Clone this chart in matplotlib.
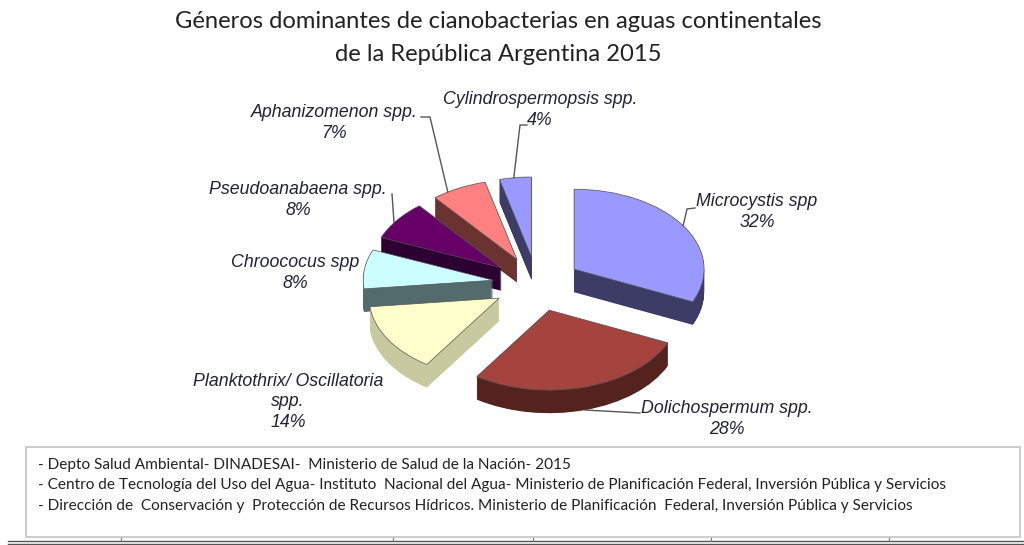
import numpy as np
import matplotlib
matplotlib.use('Agg')
import matplotlib.pyplot as plt
from matplotlib.patches import Rectangle

W, H = 1024, 545

# values as printed on the chart
generos = ['Microcystis spp', 'Dolichospermum spp.', 'Planktothrix/ Oscillatoria\nspp.',
           'Chroococus spp', 'Pseudoanabaena spp.', 'Aphanizomenon spp.', 'Cylindrospermopsis spp.']
valores = [32, 28, 14, 8, 8, 7, 4]
top_colors = ['#9999ff', '#a5433e', '#ffffcc', '#ccffff', '#660066', '#ff8080', '#9999ff']
side_colors = ['#3c3c66', '#55231e', '#c9c9a0', '#546b6b', '#2c0030', '#6b3330', '#3c3c66']

titulo = 'Géneros dominantes de cianobacterias en aguas continentales\nde la República Argentina 2015'
fuentes = ['- Depto Salud Ambiental- DINADESAI-  Ministerio de Salud de la Nación- 2015',
           '- Centro de Tecnología del Uso del Agua- Instituto  Nacional del Agua- Ministerio de Planificación Federal, Inversión Pública y Servicios',
           '- Dirección de  Conservación y  Protección de Recursos Hídricos. Ministerio de Planificación  Federal, Inversión Pública y Servicios']

# pie geometry in pixels
cx, cy = 537, 284
rx, ry = 130, 80
explode = 0.34
depth = 23

# label centre in pixels
label_x = [757, 727, 288, 295, 298, 334, 540]
label_y = [212, 419, 402, 273, 200, 123, 110]

fig = plt.figure(figsize=(W / 100, H / 100), dpi=100)
ax = fig.add_axes([0, 0, 1, 1])

# draw the walls as a stack of dark pies, top surface last
order = [6, 5, 4, 3, 0, 2, 1]
n_layers = depth * 2
for k in range(n_layers, -1, -1):
    colors = top_colors if k == 0 else side_colors
    wedges, _ = ax.pie(valores, explode=[explode] * len(valores), startangle=90, counterclock=False,
                       colors=colors, center=(0, -k / 2 / ry), radius=1,
                       wedgeprops={'linewidth': 0.5 if k == 0 else 0,
                                   'edgecolor': '#555555' if k == 0 else 'none'})
    for i, w in enumerate(wedges):
        w.set_zorder(order.index(i) * 1000 + (n_layers - k) + 1)
        w.set_clip_on(False)

ax.set_aspect('auto')
ax.set_xlim(-cx / rx, (W - cx) / rx)
ax.set_ylim(-(H - cy) / ry, cy / ry)
ax.axis('off')


def px(x, y):
    return x / W, 1 - y / H


# leader lines start on the rim of each slice, the rest of the way is in pixels
fr = np.array(valores) / sum(valores)
ends = np.cumsum(fr) * 2 * np.pi
leaders = {0: (0.5, [(687, 209), (695, 208)]),
           1: (0.5, [(640, 413)]),
           4: (0.42, [(392, 194)]),
           5: (0.28, [(430, 117), (421, 117)]),
           6: (0.45, [(520, 125), (527, 125)])}
for i, (along, pts) in leaders.items():
    a = ends[i] - fr[i] * 2 * np.pi * (1 - along)
    mid = ends[i] - fr[i] * np.pi
    x0 = cx + explode * rx * np.sin(mid) + rx * np.sin(a)
    y0 = cy - explode * ry * np.cos(mid) - ry * np.cos(a) + (depth if i == 1 else 0)
    xs = np.array([x0] + [p[0] for p in pts])
    ys = np.array([y0] + [p[1] for p in pts])
    ax.plot((xs - cx) / rx, (cy - ys) / ry, color='#555555', lw=1,
            zorder=5000 if i != 1 else 9000, clip_on=False)

for i, g in enumerate(generos):
    fx, fy = px(label_x[i], label_y[i])
    fig.text(fx, fy, '%s\n%d%%' % (g, valores[i]), ha='center', va='center', style='italic',
             family='Liberation Sans', fontsize=12.8, color='#222233', linespacing=1.25)

fx, fy = px(498, 38)
fig.text(fx, fy, titulo, ha='center', va='center', family='Lato', fontsize=17.1, color='#222222',
         linespacing=1.68)

# sources box and the double rule below it
bx, by = px(26, 537)
fig.add_artist(Rectangle((bx, by), (1020 - 26) / W, (537 - 447) / H, transform=fig.transFigure,
                         facecolor='white', edgecolor='#c4c4c4', lw=1.2))
for y, t in zip([465, 485, 506], fuentes):
    fx, fy = px(38, y)
    fig.text(fx, fy, t, ha='left', va='center', family='Lato', fontsize=11.1, color='#222222')

for y in [541, 544]:
    fig.add_artist(plt.Line2D([8 / W, 1], [1 - y / H] * 2, transform=fig.transFigure, color='#555555', lw=1))
for x in [121, 393, 533, 711, 889]:
    fig.add_artist(plt.Line2D([x / W] * 2, [1 - 538 / H, 1 - 541 / H], transform=fig.transFigure,
                              color='#777777', lw=0.8))

fig.savefig('out.png', dpi=100)
